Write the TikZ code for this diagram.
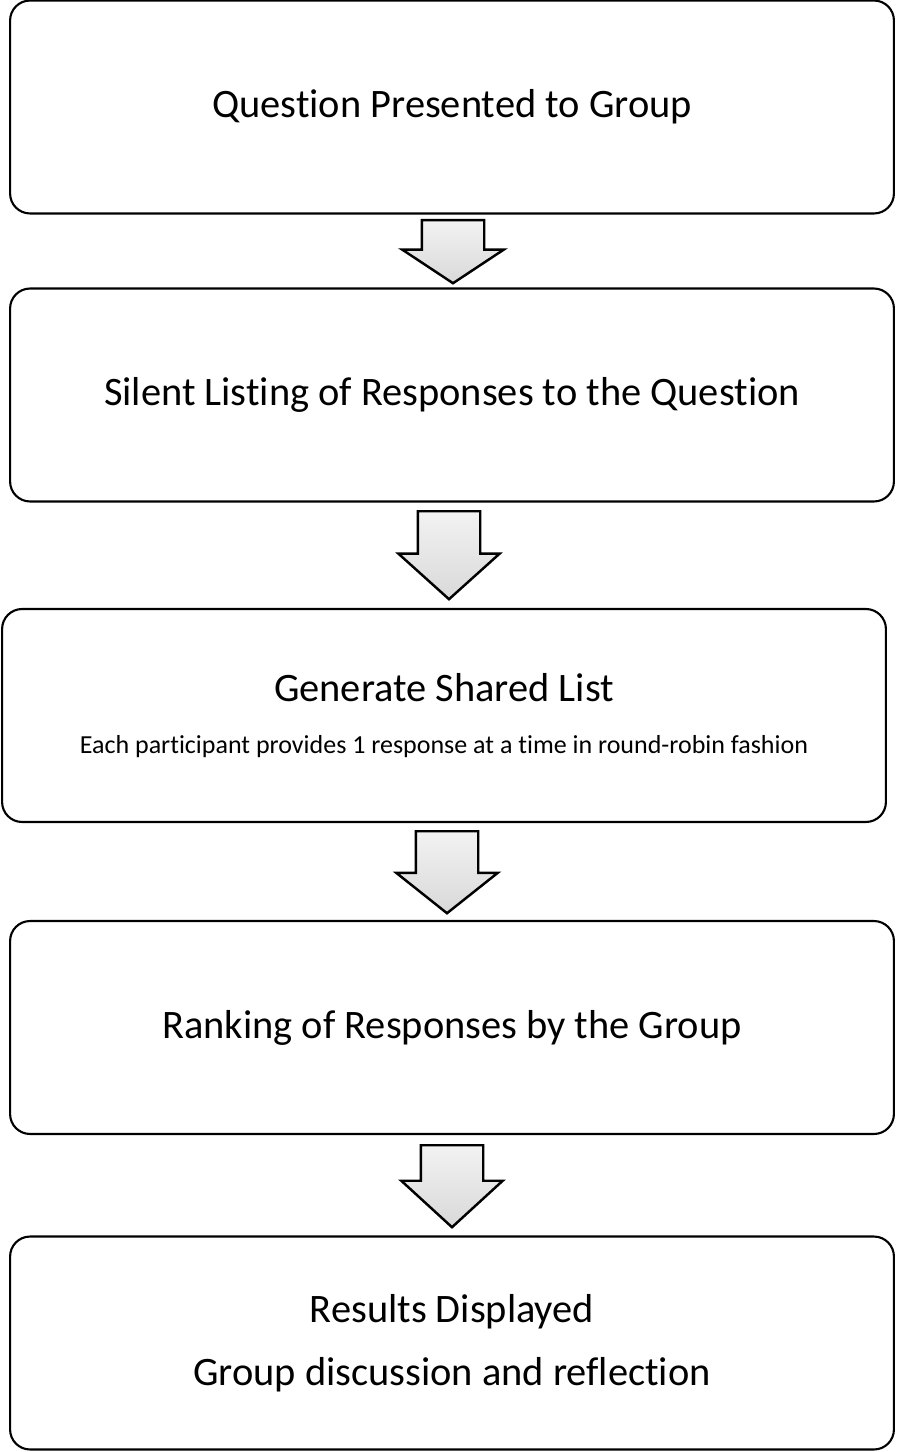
\documentclass[tikz,border=0pt]{standalone}
\usepackage{fontspec}
\setmainfont{Carlito}[Ligatures=NoCommon]
\usetikzlibrary{shapes.arrows}

\begin{document}
\begin{tikzpicture}[x=0.02cm, y=-0.02cm,
    stagebox/.style={draw=black, line width=1.2pt, rounded corners=0.4cm, fill=white, minimum width=17.68cm, minimum height=4.26cm, inner sep=0pt, align=center, font=\fontsize{23}{27}\selectfont},
    flowarrow/.style={single arrow, draw=black, line width=1.4pt, top color=gray!10, bottom color=gray!30, inner xsep=0pt, inner ysep=0.6cm, single arrow head extend=0.39cm, rotate=-90, anchor=tail}
]
\useasboundingbox (0,0) rectangle (896,1452);

\node[stagebox] (b1) at (452,107) {Question Presented to Group};
\node[stagebox] (b2) at (452,395) {Silent Listing of Responses to the Question};
\node[stagebox] (b3) at (444,715.5) {Generate Shared List\\[3pt]{\fontsize{14.8}{17}\selectfont Each participant provides 1 response at a time in round-robin fashion}};
\node[stagebox] (b4) at (452,1027.5) {Ranking of Responses by the Group};
\node[stagebox, font=\fontsize{23}{36}\selectfont] (b5) at (452,1343) {Results Displayed\\Group discussion and reflection};

% block arrows between the stages
\foreach \n/\x/\y/\len/\ang in {1/453/219/1.26/113, 2/449/510/1.76/96, 3/447/830/1.64/103, 4/452/1144/1.64/95}
  \node[flowarrow, minimum height=\len cm, single arrow tip angle=\ang] (a\n) at (\x,\y) {};
\end{tikzpicture}
\end{document}
